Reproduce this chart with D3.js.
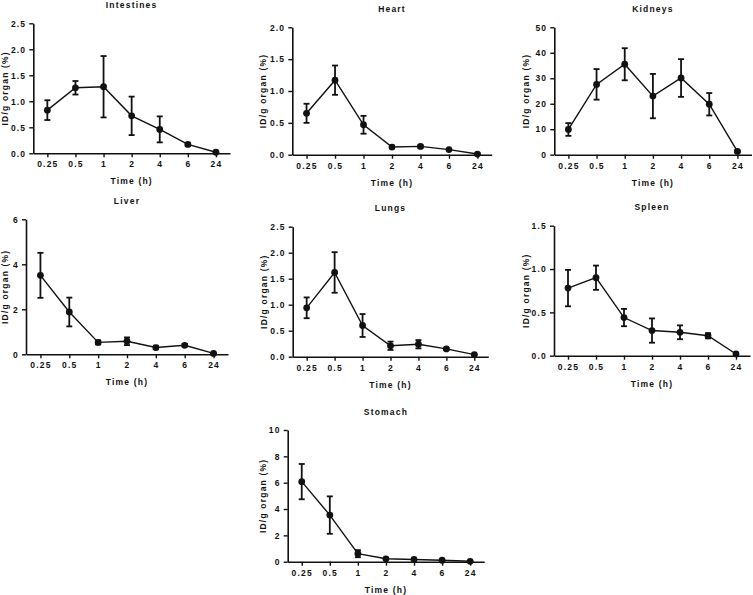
<!DOCTYPE html>
<html>
<head>
<meta charset="utf-8">
<script src="https://cdn.jsdelivr.net/npm/d3@7"></script>
<style>
  html, body { margin: 0; padding: 0; background: #fff; }
  svg text { font-family: "Liberation Sans", Arial, sans-serif; font-weight: bold; fill: #111; }
</style>
</head>
<body>
<svg id="chart" width="753" height="595"></svg>
<script>
// ---- data ----
const times = ["0.25", "0.5", "1", "2", "4", "6", "24"];

const intestinesMean = [0.83, 1.26, 1.28, 0.72, 0.46, 0.17, 0.02];
const intestinesSD   = [0.19, 0.13, 0.59, 0.37, 0.25, 0.03, 0.01];

const heartMean = [0.65, 1.17, 0.47, 0.12, 0.13, 0.08, 0.01];
const heartSD   = [0.15, 0.23, 0.14, 0.02, 0.02, 0.01, 0.01];

const kidneysMean = [9.9, 27.6, 35.5, 23.0, 30.1, 19.8, 1.3];
const kidneysSD   = [2.5, 6.0, 6.3, 8.7, 7.4, 4.4, 0.4];

const liverMean = [3.51, 1.88, 0.53, 0.58, 0.30, 0.40, 0.04];
const liverSD   = [1.0, 0.64, 0.09, 0.17, 0.08, 0.06, 0.02];

const lungsMean = [0.94, 1.62, 0.60, 0.21, 0.24, 0.15, 0.04];
const lungsSD   = [0.20, 0.39, 0.22, 0.08, 0.08, 0.02, 0.01];

const spleenMean = [0.78, 0.90, 0.44, 0.29, 0.27, 0.23, 0.02];
const spleenSD   = [0.21, 0.14, 0.10, 0.14, 0.08, 0.03, 0.01];

const stomachMean = [6.08, 3.54, 0.61, 0.22, 0.17, 0.11, 0.03];
const stomachSD   = [1.34, 1.42, 0.27, 0.05, 0.04, 0.03, 0.02];

const intestinesTicks = [0, 0.5, 1.0, 1.5, 2.0, 2.5];
const heartTicks = [0, 0.5, 1.0, 1.5, 2.0];
const kidneysTicks = [0, 10, 20, 30, 40, 50];
const liverTicks = [0, 2, 4, 6];
const lungsTicks = [0, 0.5, 1.0, 1.5, 2.0, 2.5];
const spleenTicks = [0, 0.5, 1.0, 1.5];
const stomachTicks = [0, 2, 4, 6, 8, 10];

const xTitle = "Time (h)";
const yTitle = "ID/g organ (%)";

// ---- panel layout ----
const panels = [
  {title: "Intestines", mean: intestinesMean, sd: intestinesSD, ticks: intestinesTicks, dec: 1,
   x0: 33.3, x1: 230, top: 23.3, bottom: 153.3, ylab: 6},
  {title: "Heart", mean: heartMean, sd: heartSD, ticks: heartTicks, dec: 1,
   x0: 292.3, x1: 491.7, top: 27.3, bottom: 154.7, ylab: 264},
  {title: "Kidneys", mean: kidneysMean, sd: kidneysSD, ticks: kidneysTicks, dec: 0,
   x0: 554.3, x1: 751.5, top: 27.3, bottom: 154.7, ylab: 527},
  {title: "Liver", mean: liverMean, sd: liverSD, ticks: liverTicks, dec: 0,
   x0: 26, x1: 228, top: 219.3, bottom: 354.3, ylab: 6},
  {title: "Lungs", mean: lungsMean, sd: lungsSD, ticks: lungsTicks, dec: 1,
   x0: 292.7, x1: 488.3, top: 226.7, bottom: 356.7, ylab: 265},
  {title: "Spleen", mean: spleenMean, sd: spleenSD, ticks: spleenTicks, dec: 1,
   x0: 554, x1: 750, top: 225.7, bottom: 355.7, ylab: 527},
  {title: "Stomach", mean: stomachMean, sd: stomachSD, ticks: stomachTicks, dec: 0,
   x0: 287.7, x1: 484.2, top: 430, bottom: 561.7, ylab: 264}
];

const svg = d3.select("#chart");
const FS = 8.5, LS = "1.2px";

panels.forEach(p => {
  const g = svg.append("g");
  const x = d3.scalePoint().domain(times).range([p.x0, p.x1]).padding(0.5);
  const ymax = p.ticks[p.ticks.length - 1];
  const y = d3.scaleLinear().domain([0, ymax]).range([p.bottom, p.top]);
  const fmt = p.dec ? d3.format(".1f") : d3.format("d");

  const ya = g.append("g").attr("transform", `translate(${p.x0},0)`)
    .call(d3.axisLeft(y).tickValues(p.ticks).tickFormat(fmt).tickSize(4).tickSizeOuter(0).tickPadding(3));
  const xa = g.append("g").attr("transform", `translate(0,${p.bottom})`)
    .call(d3.axisBottom(x).tickSize(4).tickSizeOuter(0).tickPadding(4));
  [ya, xa].forEach(a => {
    a.select(".domain").attr("stroke", "#111").attr("stroke-width", 1.6);
    a.selectAll(".tick line").attr("stroke", "#111").attr("stroke-width", 1.4);
    a.selectAll(".tick text").attr("font-size", FS).attr("letter-spacing", LS)
      .style("font-family", '"Liberation Sans", Arial, sans-serif').style("font-weight", "bold").attr("fill", "#111");
  });

  g.append("text").attr("x", (p.x0 + p.x1) / 2).attr("y", p.top - 15.5)
    .attr("text-anchor", "middle").attr("font-size", FS).attr("letter-spacing", LS).text(p.title);
  g.append("text").attr("x", (p.x0 + p.x1) / 2).attr("y", p.bottom + 31)
    .attr("text-anchor", "middle").attr("font-size", FS).attr("letter-spacing", LS).text(xTitle);
  g.append("text").attr("transform", `translate(${p.ylab + 2},${(p.top + p.bottom) / 2}) rotate(-90)`)
    .attr("text-anchor", "middle").attr("font-size", FS).attr("letter-spacing", LS).text(yTitle);

  const data = times.map((t, i) => ({t, m: p.mean[i], s: p.sd[i]}));

  g.append("path").datum(data)
    .attr("d", d3.line().x(d => x(d.t)).y(d => y(d.m)))
    .attr("fill", "none").attr("stroke", "#111").attr("stroke-width", 1.4);

  const eb = g.append("g").attr("stroke", "#111").attr("stroke-width", 1.8);
  data.forEach(d => {
    const cx = x(d.t), lo = y(Math.max(0, d.m - d.s)), hi = y(d.m + d.s);
    eb.append("line").attr("x1", cx).attr("x2", cx).attr("y1", lo).attr("y2", hi);
    eb.append("line").attr("x1", cx - 3).attr("x2", cx + 3).attr("y1", lo).attr("y2", lo);
    eb.append("line").attr("x1", cx - 3).attr("x2", cx + 3).attr("y1", hi).attr("y2", hi);
  });

  g.selectAll("circle.pt").data(data).enter().append("circle")
    .attr("class", "pt").attr("cx", d => x(d.t)).attr("cy", d => y(d.m)).attr("r", 3.4)
    .attr("fill", "#111");
});
</script>
</body>
</html>
